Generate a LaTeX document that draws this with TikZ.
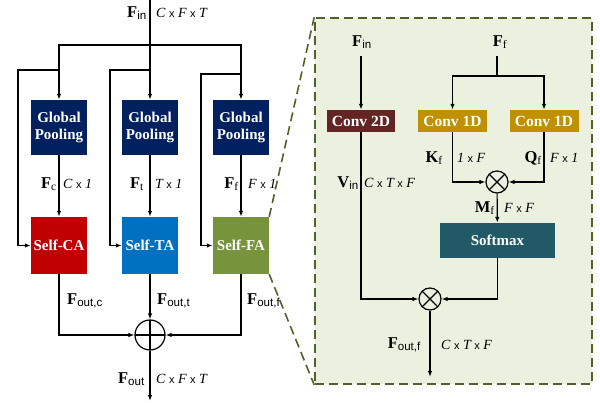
\documentclass[tikz,border=0pt]{standalone}
\usepackage{fontspec}
\setmainfont{Liberation Serif}
\setsansfont{Liberation Sans}
\usetikzlibrary{arrows.meta}
\definecolor{gpcol}{HTML}{002060}
\definecolor{cacol}{HTML}{C00000}
\definecolor{tacol}{HTML}{0070C0}
\definecolor{facol}{HTML}{77933C}
\definecolor{c2dcol}{HTML}{632523}
\definecolor{c1dcol}{HTML}{BF9000}
\definecolor{smcol}{HTML}{215967}
\definecolor{panelfill}{HTML}{EBF1DE}
\definecolor{paneldraw}{HTML}{4F6228}
\newcommand\tx{\ {\sffamily\upshape\fontsize{11}{12}\selectfont x}\ }
\newcommand\bF[2]{\textbf{#1}\textsubscript{#2}}
\newcommand\bS[2]{\textbf{#1}\textsubscript{\sffamily #2}}
\begin{document}
\begin{tikzpicture}[x=1pt,y=-1pt,
  box/.style={draw=none, inner sep=0pt, text=white, align=center,
    font=\fontsize{15}{17.5}\selectfont\bfseries},
  gpbox/.style={box, fill=gpcol, minimum width=56pt, minimum height=55pt},
  sabox/.style={box, minimum width=56pt, minimum height=57pt},
  thinbox/.style={box, minimum height=22pt, font=\fontsize{15.5}{17}\selectfont\bfseries},
  arr/.style={line width=1.2pt, -{Latex[length=6pt,width=4.5pt]}},
  ln/.style={line width=1.2pt},
  lab/.style={inner sep=0pt, font=\fontsize{16.5}{18}\selectfont},
  dim/.style={inner sep=0pt, font=\fontsize{14}{17}\selectfont\itshape},
  opl/.style={circle, draw, line width=1.2pt, minimum size=30pt, inner sep=0pt,
    path picture={\draw[line width=1.2pt] (path picture bounding box.north) -- (path picture bounding box.south)
      (path picture bounding box.west) -- (path picture bounding box.east);}},
  otm/.style={circle, draw, line width=1.2pt, minimum size=22pt, inner sep=0pt,
    path picture={\draw[line width=1.2pt] (path picture bounding box.north west) -- (path picture bounding box.south east)
      (path picture bounding box.south west) -- (path picture bounding box.north east);}},
  panel/.style={fill=panelfill, draw=paneldraw, line width=1.6pt, dash pattern=on 9pt off 5pt},
  dl/.style={draw=paneldraw, line width=1.6pt, dash pattern=on 9pt off 5pt}
]
\useasboundingbox (0,0) rectangle (600,403);

% ---------- right panel ----------
\node[panel, minimum width=277pt, minimum height=366pt, inner sep=0pt] (panel) at (453.5,201) {};

% ---------- left part ----------
\node[gpbox] (gp1) at (59,127.5) {Global\\Pooling};
\node[gpbox] (gp2) at (150,127.5) {Global\\Pooling};
\node[gpbox] (gp3) at (241,127.5) {Global\\Pooling};
\node[sabox, fill=cacol] (sa1) at (59,245.5) {Self-CA};
\node[sabox, fill=tacol] (sa2) at (150,245.5) {Self-TA};
\node[sabox, fill=facol] (sa3) at (241,245.5) {Self-FA};
\node[opl] (plus) at (150,335) {};

\coordinate (top) at (150,0);
\coordinate (j) at (150,45);
\coordinate (k1) at (59,70);  \coordinate (l1) at (18,70);
\coordinate (k2) at (150,70); \coordinate (l2) at (110,70);
\coordinate (k3) at (241,74); \coordinate (l3) at (201,74);
\coordinate (bot) at (150,401);

\draw[arr] (top) -- (gp2.north);
\draw[arr] (j) -| (gp1.north);
\draw[arr] (j) -| (gp3.north);
\draw[arr] (k1) -- (l1) |- (sa1.west);
\draw[arr] (k2) -- (l2) |- (sa2.west);
\draw[arr] (k3) -- (l3) |- (sa3.west);
\draw[arr] (gp1) -- (sa1);
\draw[arr] (gp2) -- (sa2);
\draw[arr] (gp3) -- (sa3);
\draw[arr] (sa1.south) |- (plus.west);
\draw[arr] (sa2) -- (plus);
\draw[arr] (sa3.south) |- (plus.east);
\draw[arr] (plus) -- (bot);

% labels left
\node[lab, anchor=east] (lfin) at (147,13) {\bS{F}{in}};
\node[dim, anchor=west] (dfin) at (156,13) {C\tx F\tx T};
\node[lab, anchor=east] (lfc) at (57,184) {\bF{F}{c}};
\node[dim, anchor=west] (dfc) at (63,184) {C\tx 1};
\node[lab, anchor=east] (lft) at (144,184) {\bF{F}{t}};
\node[dim, anchor=west] (dft) at (155,184) {T\tx 1};
\node[lab, anchor=east] (lff) at (239,184) {\bF{F}{f}};
\node[dim, anchor=west] (dff) at (248,184) {F\tx 1};
\node[lab, anchor=west] (lfoc) at (67,301) {\bS{F}{out,c}};
\node[lab, anchor=west] (lfot) at (157,301) {\bS{F}{out,t}};
\node[lab, anchor=west] (lfof) at (247,301) {\bS{F}{out,f}};
\node[lab, anchor=east] (lfout) at (145,379) {\bS{F}{out}};
\node[dim, anchor=west] (dfout) at (156,379) {C\tx F\tx T};

% dashed zoom lines
\draw[dl] (sa3.north east) -- (panel.north west);
\draw[dl] (sa3.south east) -- (panel.south west);

% ---------- right panel content ----------
\node[thinbox, fill=c2dcol, minimum width=68pt] (c2d) at (361,121) {Conv 2D};
\node[thinbox, fill=c1dcol, minimum width=69pt] (c1a) at (452.5,121) {Conv 1D};
\node[thinbox, fill=c1dcol, minimum width=69pt] (c1b) at (544,121) {Conv 1D};
\node[box, fill=smcol, minimum width=115pt, minimum height=35pt] (sm) at (497.5,240.5) {Softmax};
\node[otm] (ot1) at (497,182) {};
\node[otm] (ot2) at (430,299) {};

\node[lab] (rfin) at (362,42) {\bS{F}{in}};
\node[lab] (rff) at (500,42) {\bF{F}{f}};
\coordinate (fs) at (497,76);
\coordinate (fin2) at (361,56);
\coordinate (ff2) at (497,56);
\coordinate (endf) at (430,377);

\draw[arr] (fin2) -- (c2d.north);
\draw[ln] (ff2) -- (fs);
\draw[arr] (fs) -| (c1a.north);
\draw[arr] (fs) -| (c1b.north);
\draw[arr] (c1a.south) |- (ot1.west);
\draw[arr] (c1b.south) |- (ot1.east);
\draw[arr] (ot1) -- (sm);
\draw[arr] (sm.south) |- (ot2.east);
\draw[arr] (c2d.south) |- (ot2.west);
\draw[arr] (ot2) -- (endf);

\node[lab, anchor=east] (lkf) at (443,158) {\bF{K}{f}};
\node[dim, anchor=west] (dkf) at (457,158) {1\tx F};
\node[lab, anchor=east] (lqf) at (542,158) {\bF{Q}{f}};
\node[dim, anchor=west] (dqf) at (550,158) {F\tx 1};
\node[lab, anchor=east] (lvin) at (359,183) {\bS{V}{in}};
\node[dim, anchor=west] (dvin) at (364,183) {C\tx T\tx F};
\node[lab, anchor=east] (lmf) at (495,208) {\bF{M}{f}};
\node[dim, anchor=west] (dmf) at (504,208) {F\tx F};
\node[lab, anchor=east] (lfof2) at (421,345) {\bS{F}{out,f}};
\node[dim, anchor=west] (dfof2) at (441,345) {C\tx T\tx F};
\end{tikzpicture}
\end{document}
